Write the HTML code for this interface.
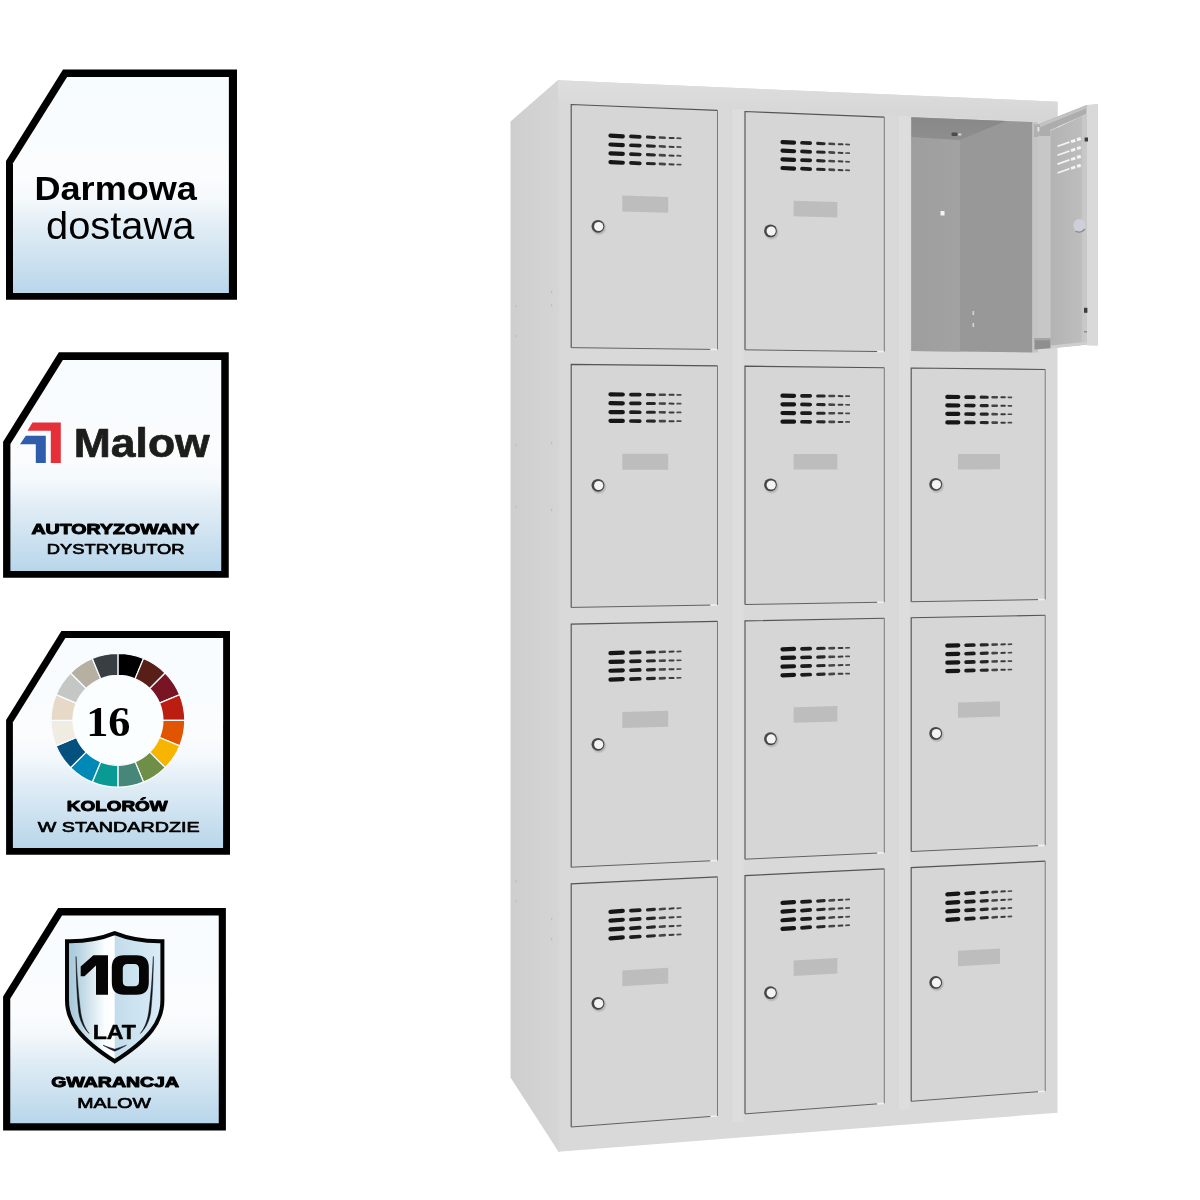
<!DOCTYPE html>
<html><head><meta charset="utf-8"><title>Szafa</title>
<style>
html,body{margin:0;padding:0;background:#fff;}
body{width:1200px;height:1200px;overflow:hidden;font-family:"Liberation Sans",sans-serif;}
svg{display:block}
</style></head><body>
<svg width="1200" height="1200" viewBox="0 0 1200 1200">
<defs>
<filter id="soft" x="-0.02" y="-0.02" width="1.04" height="1.04"><feGaussianBlur stdDeviation="0.65"/></filter>
<linearGradient id="gb" x1="0" y1="0" x2="0" y2="1">
<stop offset="0" stop-color="#f7fcff"/><stop offset="0.3" stop-color="#f9fcfe"/><stop offset="0.46" stop-color="#fbfcfd"/><stop offset="0.57" stop-color="#f4f9fc"/><stop offset="0.68" stop-color="#e3eef6"/><stop offset="1" stop-color="#b8d6ea"/>
</linearGradient>
<linearGradient id="gside" x1="0" y1="0" x2="1" y2="0">
<stop offset="0" stop-color="#cecece"/><stop offset="1" stop-color="#d5d5d5"/>
</linearGradient>
<linearGradient id="gback" x1="0" y1="0" x2="1" y2="0">
<stop offset="0" stop-color="#9e9e9e"/><stop offset="1" stop-color="#a2a2a2"/>
</linearGradient>
<linearGradient id="gdoorin" x1="0" y1="0" x2="1" y2="0">
<stop offset="0" stop-color="#b3b3b3"/><stop offset="0.84" stop-color="#bdbdbd"/><stop offset="0.88" stop-color="#c7c7c7"/><stop offset="1" stop-color="#c9c9c9"/>
</linearGradient>
<linearGradient id="gtop" x1="0" y1="0" x2="0" y2="1">
<stop offset="0" stop-color="#dedede"/><stop offset="1" stop-color="#d5d5d5"/>
</linearGradient>
<linearGradient id="gceil" x1="0" y1="0" x2="0" y2="1">
<stop offset="0" stop-color="#888888"/><stop offset="1" stop-color="#8e8e8e"/>
</linearGradient>
<radialGradient id="glockshadow"><stop offset="0.5" stop-color="#000" stop-opacity="0.25"/><stop offset="1" stop-color="#000" stop-opacity="0"/></radialGradient>
<linearGradient id="gsh" x1="0" y1="0" x2="1" y2="0">
<stop offset="0" stop-color="#a4c7d8"/><stop offset="0.12" stop-color="#b6d3e0"/><stop offset="0.4" stop-color="#fbfdfe"/><stop offset="0.5" stop-color="#ffffff"/><stop offset="1" stop-color="#ffffff"/>
</linearGradient>
<linearGradient id="gsh2" x1="0" y1="0" x2="1" y2="0">
<stop offset="0" stop-color="#c3dceb"/><stop offset="1" stop-color="#d9ecf7"/>
</linearGradient>
</defs>
<rect width="1200" height="1200" fill="#ffffff"/>
<g id="badges" opacity="0.999">
<polygon points="6.00,161.00 63.00,69.40 237.00,69.40 237.00,299.75 6.00,299.75" fill="#000"/><polygon points="13.00,163.25 67.10,76.90 228.90,76.90 228.90,293.00 13.00,293.00" fill="url(#gb)"/>
<polygon points="3.10,441.83 58.85,352.25 228.75,352.25 228.75,577.75 3.10,577.75" fill="#000"/><polygon points="10.40,444.04 62.86,360.00 221.25,360.00 221.25,571.00 10.40,571.00" fill="url(#gb)"/>
<polygon points="6.10,719.95 61.39,631.10 230.00,631.10 230.00,854.75 6.10,854.75" fill="#000"/><polygon points="12.90,722.13 65.37,637.90 223.10,637.90 223.10,847.90 12.90,847.90" fill="url(#gb)"/>
<polygon points="3.10,996.49 58.10,908.10 225.90,908.10 225.90,1130.40 3.10,1130.40" fill="#000"/><polygon points="10.25,998.67 62.06,915.60 218.75,915.60 218.75,1123.25 10.25,1123.25" fill="url(#gb)"/>
<text x="34.50" y="199.50" font-family="'Liberation Sans', sans-serif" font-size="33.77" font-weight="bold" textLength="162.39" lengthAdjust="spacingAndGlyphs" fill="#000">Darmowa</text>
<text x="46.05" y="238.95" font-family="'Liberation Sans', sans-serif" font-size="38.47" font-weight="normal" textLength="148.27" lengthAdjust="spacingAndGlyphs" fill="#000">dostawa</text>
<g><polygon points="32.5,422.5 60.8,422.5 60.8,463 50.8,463 50.8,430.8 27.5,430.8" fill="#e5303a"/><polygon points="25.8,435.8 45.8,435.8 45.8,463 35.8,463 35.8,444.2 20,444.2" fill="#2f5cab"/></g>
<text x="73.80" y="456.75" font-family="'Liberation Sans', sans-serif" font-size="39.80" font-weight="bold" textLength="135.83" lengthAdjust="spacingAndGlyphs" fill="#1d1d1b" stroke="#1d1d1b" stroke-width="0.70" stroke-linejoin="round">Malow</text>
<text x="31.45" y="533.70" font-family="'Liberation Sans', sans-serif" font-size="14.91" font-weight="bold" textLength="167.57" lengthAdjust="spacingAndGlyphs" fill="#000" stroke="#000" stroke-width="1.00" stroke-linejoin="round">AUTORYZOWANY</text>
<text x="46.80" y="554.00" font-family="'Liberation Sans', sans-serif" font-size="14.32" font-weight="normal" textLength="137.76" lengthAdjust="spacingAndGlyphs" fill="#000" stroke="#000" stroke-width="0.70" stroke-linejoin="round">DYSTRYBUTOR</text>
<circle cx="117.9" cy="720.3" r="46" fill="#fbfeff"/>
<path d="M117.90 653.40 A66.9 66.9 0 0 1 143.50 658.49 L135.12 678.73 A45.0 45.0 0 0 0 117.90 675.30 Z" fill="#000000" stroke="#f8fcfe" stroke-width="1.25"/>
<path d="M143.50 658.49 A66.9 66.9 0 0 1 165.21 672.99 L149.72 688.48 A45.0 45.0 0 0 0 135.12 678.73 Z" fill="#581f18" stroke="#f8fcfe" stroke-width="1.25"/>
<path d="M165.21 672.99 A66.9 66.9 0 0 1 179.71 694.70 L159.47 703.08 A45.0 45.0 0 0 0 149.72 688.48 Z" fill="#781424" stroke="#f8fcfe" stroke-width="1.25"/>
<path d="M179.71 694.70 A66.9 66.9 0 0 1 184.80 720.30 L162.90 720.30 A45.0 45.0 0 0 0 159.47 703.08 Z" fill="#bb1e10" stroke="#f8fcfe" stroke-width="1.25"/>
<path d="M184.80 720.30 A66.9 66.9 0 0 1 179.71 745.90 L159.47 737.52 A45.0 45.0 0 0 0 162.90 720.30 Z" fill="#e15501" stroke="#f8fcfe" stroke-width="1.25"/>
<path d="M179.71 745.90 A66.9 66.9 0 0 1 165.21 767.61 L149.72 752.12 A45.0 45.0 0 0 0 159.47 737.52 Z" fill="#f7b500" stroke="#f8fcfe" stroke-width="1.25"/>
<path d="M165.21 767.61 A66.9 66.9 0 0 1 143.50 782.11 L135.12 761.87 A45.0 45.0 0 0 0 149.72 752.12 Z" fill="#6f8f48" stroke="#f8fcfe" stroke-width="1.25"/>
<path d="M143.50 782.11 A66.9 66.9 0 0 1 117.90 787.20 L117.90 765.30 A45.0 45.0 0 0 0 135.12 761.87 Z" fill="#47877a" stroke="#f8fcfe" stroke-width="1.25"/>
<path d="M117.90 787.20 A66.9 66.9 0 0 1 92.30 782.11 L100.68 761.87 A45.0 45.0 0 0 0 117.90 765.30 Z" fill="#0a9a94" stroke="#f8fcfe" stroke-width="1.25"/>
<path d="M92.30 782.11 A66.9 66.9 0 0 1 70.59 767.61 L86.08 752.12 A45.0 45.0 0 0 0 100.68 761.87 Z" fill="#0089b6" stroke="#f8fcfe" stroke-width="1.25"/>
<path d="M70.59 767.61 A66.9 66.9 0 0 1 56.09 745.90 L76.33 737.52 A45.0 45.0 0 0 0 86.08 752.12 Z" fill="#04507f" stroke="#f8fcfe" stroke-width="1.25"/>
<path d="M56.09 745.90 A66.9 66.9 0 0 1 51.00 720.30 L72.90 720.30 A45.0 45.0 0 0 0 76.33 737.52 Z" fill="#f1ece1" stroke="#f8fcfe" stroke-width="1.25"/>
<path d="M51.00 720.30 A66.9 66.9 0 0 1 56.09 694.70 L76.33 703.08 A45.0 45.0 0 0 0 72.90 720.30 Z" fill="#e6d9c8" stroke="#f8fcfe" stroke-width="1.25"/>
<path d="M56.09 694.70 A66.9 66.9 0 0 1 70.59 672.99 L86.08 688.48 A45.0 45.0 0 0 0 76.33 703.08 Z" fill="#c5c7c4" stroke="#f8fcfe" stroke-width="1.25"/>
<path d="M70.59 672.99 A66.9 66.9 0 0 1 92.30 658.49 L100.68 678.73 A45.0 45.0 0 0 0 86.08 688.48 Z" fill="#b5b0a1" stroke="#f8fcfe" stroke-width="1.25"/>
<path d="M92.30 658.49 A66.9 66.9 0 0 1 117.90 653.40 L117.90 675.30 A45.0 45.0 0 0 0 100.68 678.73 Z" fill="#383e42" stroke="#f8fcfe" stroke-width="1.25"/>
<text x="86.20" y="736.20" font-family="'Liberation Serif', sans-serif" font-size="42.28" font-weight="bold" textLength="44.29" lengthAdjust="spacingAndGlyphs" fill="#000">16</text>
<text x="66.75" y="811.20" font-family="'Liberation Sans', sans-serif" font-size="14.91" font-weight="bold" textLength="100.95" lengthAdjust="spacingAndGlyphs" fill="#000" stroke="#000" stroke-width="1.00" stroke-linejoin="round">KOLORÓW</text>
<text x="37.75" y="832.00" font-family="'Liberation Sans', sans-serif" font-size="14.91" font-weight="normal" textLength="161.83" lengthAdjust="spacingAndGlyphs" fill="#000" stroke="#000" stroke-width="0.70" stroke-linejoin="round">W STANDARDZIE</text>
<path d="M67 941.2 C 83 941.5, 100 939.2, 114.7 933.2 C 129.4 939.2, 146.4 941.5, 162.4 941.2 L162.4 1000 C 162.4 1021, 150.5 1038.5, 114.7 1061.3 C 78.9 1038.5, 67 1021, 67 1000 Z" fill="url(#gsh)"/>
<path d="M114.7 933.2 C 129.4 939.2, 146.4 941.5, 162.4 941.2 L162.4 1000 C 162.4 1021, 150.5 1038.5, 114.7 1061.3 Z" fill="url(#gsh2)"/>
<path d="M67 941.2 C 83 941.5, 100 939.2, 114.7 933.2 C 129.4 939.2, 146.4 941.5, 162.4 941.2 L162.4 1000 C 162.4 1021, 150.5 1038.5, 114.7 1061.3 C 78.9 1038.5, 67 1021, 67 1000 Z" fill="none" stroke="#050505" stroke-width="4" stroke-linejoin="miter"/>
<path d="M76 956.5 C 76.2 975, 76.8 995, 78.7 1012 C 80 1021, 83.5 1028, 89 1033.5 C 84.5 1027.5, 81.8 1020.5, 80.6 1012 C 78.3 995, 77 975, 76 956.5Z" fill="#101018" stroke="#101018" stroke-width="0.5"/>
<path d="M153.4 956.5 C 153.2 975, 152.6 995, 150.7 1012 C 149.4 1021, 145.9 1028, 140.4 1033.5 C 144.9 1027.5, 147.6 1020.5, 148.8 1012 C 151.1 995, 152.4 975, 153.4 956.5Z" fill="#101018" stroke="#101018" stroke-width="0.5"/>
<path d="M103 1045.2 Q 109 1048.8 114.7 1051.2 Q 120.4 1048.8 126.4 1045.2 Q 120 1047.6 114.7 1049.2 Q 109.4 1047.6 103 1045.2Z" fill="#15152a" stroke="#15152a" stroke-width="0.5"/>
<path d="M93.4 955.2 H108 V994.8 H96 V965.6 L84.5 976.3 H80.7 V966.6 Z" fill="#050505"/>
<path fill-rule="evenodd" d="M124 955.2 H136.6 Q148.8 955.2 148.8 967.5 V982.5 Q148.8 994.8 136.6 994.8 H124 Q111.8 994.8 111.8 982.5 V967.5 Q111.8 955.2 124 955.2 Z M127.5 963.9 Q122.8 963.9 122.8 968.6 V981.6 Q122.8 986.3 127.5 986.3 H134.3 Q139 986.3 139 981.6 V968.6 Q139 963.9 134.3 963.9 Z" fill="#050505"/>
<text x="92.65" y="1039.45" font-family="'Liberation Sans', sans-serif" font-size="20.75" font-weight="bold" textLength="43.30" lengthAdjust="spacingAndGlyphs" fill="#000" stroke="#000" stroke-width="0.50" stroke-linejoin="round">LAT</text>
<text x="51.35" y="1086.50" font-family="'Liberation Sans', sans-serif" font-size="14.91" font-weight="bold" textLength="127.64" lengthAdjust="spacingAndGlyphs" fill="#000" stroke="#000" stroke-width="1.00" stroke-linejoin="round">GWARANCJA</text>
<text x="77.15" y="1107.50" font-family="'Liberation Sans', sans-serif" font-size="15.04" font-weight="normal" textLength="73.81" lengthAdjust="spacingAndGlyphs" fill="#000" stroke="#000" stroke-width="0.70" stroke-linejoin="round">MALOW</text>
</g>
<g id="locker" filter="url(#soft)">
<polygon points="510.50,121.50 558.00,80.00 558.00,1151.00 510.50,1077.50" fill="url(#gside)"/>
<polygon points="558.00,80.20 1057.50,101.68 1057.50,1112.69 558.00,1151.80" fill="#d9d9d9"/>
<polygon points="558.00,80.20 560.50,80.31 560.50,1151.60 558.00,1151.80" fill="#d7d7d7"/>
<polygon points="558.00,80.20 1057.50,101.68 1057.50,121.90 558.00,101.63" fill="url(#gtop)"/>
<polygon points="731.00,108.65 743.50,109.16 743.50,1121.54 731.00,1122.49" fill="#dddddd"/>
<line x1="731.0" y1="108.7" x2="731.0" y2="1122.5" stroke="#d3d3d3" stroke-width="0.8"/>
<polygon points="897.80,115.42 909.70,115.90 909.70,1108.83 897.80,1109.74" fill="#dddddd"/>
<line x1="897.8" y1="115.4" x2="897.8" y2="1109.7" stroke="#d3d3d3" stroke-width="0.8"/>
<polygon points="571.20,104.52 717.50,110.42 717.50,349.49 571.20,347.63" fill="#d6d6d6"/>
<polyline points="571.20,347.63 571.20,104.52 717.50,110.42" fill="none" stroke="#555555" stroke-width="1.15"/>
<polyline points="717.50,110.42 717.50,349.49" fill="none" stroke="#7a7a7a" stroke-width="1"/>
<polyline points="571.20,347.63 710.50,349.40" fill="none" stroke="#626262" stroke-width="1"/>
<polyline points="710.50,349.40 717.00,349.48" fill="none" stroke="#f0f0f0" stroke-width="1.6"/>
<line x1="610.47" y1="135.67" x2="622.79" y2="136.28" stroke="#141414" stroke-opacity="1.00" stroke-width="4.2" stroke-linecap="round"/>
<line x1="630.94" y1="136.44" x2="639.75" y2="136.90" stroke="#141414" stroke-opacity="0.97" stroke-width="3.7" stroke-linecap="round"/>
<line x1="647.46" y1="137.06" x2="654.37" y2="137.43" stroke="#141414" stroke-opacity="0.90" stroke-width="3.1" stroke-linecap="round"/>
<line x1="659.92" y1="137.53" x2="664.73" y2="137.80" stroke="#141414" stroke-opacity="0.75" stroke-width="2.6" stroke-linecap="round"/>
<line x1="669.53" y1="137.90" x2="673.54" y2="138.12" stroke="#141414" stroke-opacity="0.80" stroke-width="2.0" stroke-linecap="round"/>
<line x1="677.19" y1="138.18" x2="680.70" y2="138.38" stroke="#141414" stroke-opacity="0.72" stroke-width="1.7" stroke-linecap="round"/>
<line x1="610.47" y1="144.51" x2="622.79" y2="145.10" stroke="#141414" stroke-opacity="1.00" stroke-width="4.2" stroke-linecap="round"/>
<line x1="630.94" y1="145.25" x2="639.75" y2="145.70" stroke="#141414" stroke-opacity="0.97" stroke-width="3.7" stroke-linecap="round"/>
<line x1="647.46" y1="145.86" x2="654.37" y2="146.22" stroke="#141414" stroke-opacity="0.90" stroke-width="3.1" stroke-linecap="round"/>
<line x1="659.92" y1="146.32" x2="664.73" y2="146.58" stroke="#141414" stroke-opacity="0.75" stroke-width="2.6" stroke-linecap="round"/>
<line x1="669.53" y1="146.67" x2="673.54" y2="146.89" stroke="#141414" stroke-opacity="0.80" stroke-width="2.0" stroke-linecap="round"/>
<line x1="677.19" y1="146.95" x2="680.70" y2="147.14" stroke="#141414" stroke-opacity="0.72" stroke-width="1.7" stroke-linecap="round"/>
<line x1="610.47" y1="153.35" x2="622.79" y2="153.92" stroke="#141414" stroke-opacity="1.00" stroke-width="4.2" stroke-linecap="round"/>
<line x1="630.94" y1="154.07" x2="639.75" y2="154.51" stroke="#141414" stroke-opacity="0.97" stroke-width="3.7" stroke-linecap="round"/>
<line x1="647.46" y1="154.66" x2="654.37" y2="155.01" stroke="#141414" stroke-opacity="0.90" stroke-width="3.1" stroke-linecap="round"/>
<line x1="659.92" y1="155.10" x2="664.73" y2="155.36" stroke="#141414" stroke-opacity="0.75" stroke-width="2.6" stroke-linecap="round"/>
<line x1="669.53" y1="155.45" x2="673.54" y2="155.66" stroke="#141414" stroke-opacity="0.80" stroke-width="2.0" stroke-linecap="round"/>
<line x1="677.19" y1="155.72" x2="680.70" y2="155.90" stroke="#141414" stroke-opacity="0.72" stroke-width="1.7" stroke-linecap="round"/>
<line x1="610.47" y1="162.18" x2="622.79" y2="162.74" stroke="#141414" stroke-opacity="1.00" stroke-width="4.2" stroke-linecap="round"/>
<line x1="630.94" y1="162.88" x2="639.75" y2="163.31" stroke="#141414" stroke-opacity="0.97" stroke-width="3.7" stroke-linecap="round"/>
<line x1="647.46" y1="163.46" x2="654.37" y2="163.79" stroke="#141414" stroke-opacity="0.90" stroke-width="3.1" stroke-linecap="round"/>
<line x1="659.92" y1="163.89" x2="664.73" y2="164.14" stroke="#141414" stroke-opacity="0.75" stroke-width="2.6" stroke-linecap="round"/>
<line x1="669.53" y1="164.22" x2="673.54" y2="164.43" stroke="#141414" stroke-opacity="0.80" stroke-width="2.0" stroke-linecap="round"/>
<line x1="677.19" y1="164.49" x2="680.70" y2="164.66" stroke="#141414" stroke-opacity="0.72" stroke-width="1.7" stroke-linecap="round"/>
<polygon points="622.26,195.52 668.20,196.91 668.20,212.78 622.26,211.48" fill="#bdbdbd"/>
<circle cx="598.97" cy="227.80" r="8" fill="url(#glockshadow)"/>
<circle cx="597.97" cy="226.30" r="6.4" fill="#474747"/>
<circle cx="598.67" cy="226.50" r="4.6" fill="#f4f4f4"/>
<polygon points="571.20,364.32 717.50,365.91 717.50,604.98 571.20,607.42" fill="#d6d6d6"/>
<polyline points="571.20,607.42 571.20,364.32 717.50,365.91" fill="none" stroke="#555555" stroke-width="1.15"/>
<polyline points="717.50,365.91 717.50,604.98" fill="none" stroke="#7a7a7a" stroke-width="1"/>
<polyline points="571.20,607.42 710.50,605.09" fill="none" stroke="#626262" stroke-width="1"/>
<polyline points="710.50,605.09 717.00,604.99" fill="none" stroke="#f0f0f0" stroke-width="1.6"/>
<line x1="610.47" y1="394.38" x2="622.79" y2="394.50" stroke="#141414" stroke-opacity="1.00" stroke-width="4.2" stroke-linecap="round"/>
<line x1="630.94" y1="394.53" x2="639.75" y2="394.62" stroke="#141414" stroke-opacity="0.97" stroke-width="3.7" stroke-linecap="round"/>
<line x1="647.46" y1="394.66" x2="654.37" y2="394.73" stroke="#141414" stroke-opacity="0.90" stroke-width="3.1" stroke-linecap="round"/>
<line x1="659.92" y1="394.75" x2="664.73" y2="394.81" stroke="#141414" stroke-opacity="0.75" stroke-width="2.6" stroke-linecap="round"/>
<line x1="669.53" y1="394.83" x2="673.54" y2="394.87" stroke="#141414" stroke-opacity="0.80" stroke-width="2.0" stroke-linecap="round"/>
<line x1="677.19" y1="394.88" x2="680.70" y2="394.92" stroke="#141414" stroke-opacity="0.72" stroke-width="1.7" stroke-linecap="round"/>
<line x1="610.47" y1="403.21" x2="622.79" y2="403.32" stroke="#141414" stroke-opacity="1.00" stroke-width="4.2" stroke-linecap="round"/>
<line x1="630.94" y1="403.35" x2="639.75" y2="403.43" stroke="#141414" stroke-opacity="0.97" stroke-width="3.7" stroke-linecap="round"/>
<line x1="647.46" y1="403.45" x2="654.37" y2="403.52" stroke="#141414" stroke-opacity="0.90" stroke-width="3.1" stroke-linecap="round"/>
<line x1="659.92" y1="403.54" x2="664.73" y2="403.58" stroke="#141414" stroke-opacity="0.75" stroke-width="2.6" stroke-linecap="round"/>
<line x1="669.53" y1="403.60" x2="673.54" y2="403.64" stroke="#141414" stroke-opacity="0.80" stroke-width="2.0" stroke-linecap="round"/>
<line x1="677.19" y1="403.65" x2="680.70" y2="403.69" stroke="#141414" stroke-opacity="0.72" stroke-width="1.7" stroke-linecap="round"/>
<line x1="610.47" y1="412.05" x2="622.79" y2="412.14" stroke="#141414" stroke-opacity="1.00" stroke-width="4.2" stroke-linecap="round"/>
<line x1="630.94" y1="412.16" x2="639.75" y2="412.23" stroke="#141414" stroke-opacity="0.97" stroke-width="3.7" stroke-linecap="round"/>
<line x1="647.46" y1="412.25" x2="654.37" y2="412.31" stroke="#141414" stroke-opacity="0.90" stroke-width="3.1" stroke-linecap="round"/>
<line x1="659.92" y1="412.32" x2="664.73" y2="412.36" stroke="#141414" stroke-opacity="0.75" stroke-width="2.6" stroke-linecap="round"/>
<line x1="669.53" y1="412.38" x2="673.54" y2="412.41" stroke="#141414" stroke-opacity="0.80" stroke-width="2.0" stroke-linecap="round"/>
<line x1="677.19" y1="412.42" x2="680.70" y2="412.45" stroke="#141414" stroke-opacity="0.72" stroke-width="1.7" stroke-linecap="round"/>
<line x1="610.47" y1="420.88" x2="622.79" y2="420.96" stroke="#141414" stroke-opacity="1.00" stroke-width="4.2" stroke-linecap="round"/>
<line x1="630.94" y1="420.98" x2="639.75" y2="421.03" stroke="#141414" stroke-opacity="0.97" stroke-width="3.7" stroke-linecap="round"/>
<line x1="647.46" y1="421.05" x2="654.37" y2="421.10" stroke="#141414" stroke-opacity="0.90" stroke-width="3.1" stroke-linecap="round"/>
<line x1="659.92" y1="421.11" x2="664.73" y2="421.14" stroke="#141414" stroke-opacity="0.75" stroke-width="2.6" stroke-linecap="round"/>
<line x1="669.53" y1="421.15" x2="673.54" y2="421.18" stroke="#141414" stroke-opacity="0.80" stroke-width="2.0" stroke-linecap="round"/>
<line x1="677.19" y1="421.19" x2="680.70" y2="421.21" stroke="#141414" stroke-opacity="0.72" stroke-width="1.7" stroke-linecap="round"/>
<polygon points="622.26,453.82 668.20,453.85 668.20,469.72 622.26,469.77" fill="#bdbdbd"/>
<circle cx="598.97" cy="486.81" r="8" fill="url(#glockshadow)"/>
<circle cx="597.97" cy="485.31" r="6.4" fill="#474747"/>
<circle cx="598.67" cy="485.51" r="4.6" fill="#f4f4f4"/>
<polygon points="571.20,624.11 717.50,621.39 717.50,860.46 571.20,867.22" fill="#d6d6d6"/>
<polyline points="571.20,867.22 571.20,624.11 717.50,621.39" fill="none" stroke="#555555" stroke-width="1.15"/>
<polyline points="717.50,621.39 717.50,860.46" fill="none" stroke="#7a7a7a" stroke-width="1"/>
<polyline points="571.20,867.22 710.50,860.79" fill="none" stroke="#626262" stroke-width="1"/>
<polyline points="710.50,860.79 717.00,860.49" fill="none" stroke="#f0f0f0" stroke-width="1.6"/>
<line x1="610.47" y1="653.08" x2="622.79" y2="652.71" stroke="#141414" stroke-opacity="1.00" stroke-width="4.2" stroke-linecap="round"/>
<line x1="630.94" y1="652.62" x2="639.75" y2="652.35" stroke="#141414" stroke-opacity="0.97" stroke-width="3.7" stroke-linecap="round"/>
<line x1="647.46" y1="652.25" x2="654.37" y2="652.03" stroke="#141414" stroke-opacity="0.90" stroke-width="3.1" stroke-linecap="round"/>
<line x1="659.92" y1="651.97" x2="664.73" y2="651.81" stroke="#141414" stroke-opacity="0.75" stroke-width="2.6" stroke-linecap="round"/>
<line x1="669.53" y1="651.75" x2="673.54" y2="651.62" stroke="#141414" stroke-opacity="0.80" stroke-width="2.0" stroke-linecap="round"/>
<line x1="677.19" y1="651.58" x2="680.70" y2="651.47" stroke="#141414" stroke-opacity="0.72" stroke-width="1.7" stroke-linecap="round"/>
<line x1="610.47" y1="661.91" x2="622.79" y2="661.53" stroke="#141414" stroke-opacity="1.00" stroke-width="4.2" stroke-linecap="round"/>
<line x1="630.94" y1="661.44" x2="639.75" y2="661.15" stroke="#141414" stroke-opacity="0.97" stroke-width="3.7" stroke-linecap="round"/>
<line x1="647.46" y1="661.05" x2="654.37" y2="660.82" stroke="#141414" stroke-opacity="0.90" stroke-width="3.1" stroke-linecap="round"/>
<line x1="659.92" y1="660.76" x2="664.73" y2="660.59" stroke="#141414" stroke-opacity="0.75" stroke-width="2.6" stroke-linecap="round"/>
<line x1="669.53" y1="660.53" x2="673.54" y2="660.39" stroke="#141414" stroke-opacity="0.80" stroke-width="2.0" stroke-linecap="round"/>
<line x1="677.19" y1="660.35" x2="680.70" y2="660.23" stroke="#141414" stroke-opacity="0.72" stroke-width="1.7" stroke-linecap="round"/>
<line x1="610.47" y1="670.75" x2="622.79" y2="670.35" stroke="#141414" stroke-opacity="1.00" stroke-width="4.2" stroke-linecap="round"/>
<line x1="630.94" y1="670.25" x2="639.75" y2="669.95" stroke="#141414" stroke-opacity="0.97" stroke-width="3.7" stroke-linecap="round"/>
<line x1="647.46" y1="669.85" x2="654.37" y2="669.61" stroke="#141414" stroke-opacity="0.90" stroke-width="3.1" stroke-linecap="round"/>
<line x1="659.92" y1="669.54" x2="664.73" y2="669.37" stroke="#141414" stroke-opacity="0.75" stroke-width="2.6" stroke-linecap="round"/>
<line x1="669.53" y1="669.31" x2="673.54" y2="669.16" stroke="#141414" stroke-opacity="0.80" stroke-width="2.0" stroke-linecap="round"/>
<line x1="677.19" y1="669.12" x2="680.70" y2="668.99" stroke="#141414" stroke-opacity="0.72" stroke-width="1.7" stroke-linecap="round"/>
<line x1="610.47" y1="679.58" x2="622.79" y2="679.17" stroke="#141414" stroke-opacity="1.00" stroke-width="4.2" stroke-linecap="round"/>
<line x1="630.94" y1="679.07" x2="639.75" y2="678.75" stroke="#141414" stroke-opacity="0.97" stroke-width="3.7" stroke-linecap="round"/>
<line x1="647.46" y1="678.65" x2="654.37" y2="678.40" stroke="#141414" stroke-opacity="0.90" stroke-width="3.1" stroke-linecap="round"/>
<line x1="659.92" y1="678.33" x2="664.73" y2="678.14" stroke="#141414" stroke-opacity="0.75" stroke-width="2.6" stroke-linecap="round"/>
<line x1="669.53" y1="678.08" x2="673.54" y2="677.93" stroke="#141414" stroke-opacity="0.80" stroke-width="2.0" stroke-linecap="round"/>
<line x1="677.19" y1="677.89" x2="680.70" y2="677.76" stroke="#141414" stroke-opacity="0.72" stroke-width="1.7" stroke-linecap="round"/>
<polygon points="622.26,712.11 668.20,710.79 668.20,726.66 622.26,728.06" fill="#bdbdbd"/>
<circle cx="598.97" cy="745.81" r="8" fill="url(#glockshadow)"/>
<circle cx="597.97" cy="744.31" r="6.4" fill="#474747"/>
<circle cx="598.67" cy="744.51" r="4.6" fill="#f4f4f4"/>
<polygon points="571.20,883.91 717.50,876.88 717.50,1115.95 571.20,1127.01" fill="#d6d6d6"/>
<polyline points="571.20,1127.01 571.20,883.91 717.50,876.88" fill="none" stroke="#555555" stroke-width="1.15"/>
<polyline points="717.50,876.88 717.50,1115.95" fill="none" stroke="#7a7a7a" stroke-width="1"/>
<polyline points="571.20,1127.01 710.50,1116.48" fill="none" stroke="#626262" stroke-width="1"/>
<polyline points="710.50,1116.48 717.00,1115.99" fill="none" stroke="#f0f0f0" stroke-width="1.6"/>
<line x1="610.47" y1="911.78" x2="622.79" y2="910.93" stroke="#141414" stroke-opacity="1.00" stroke-width="4.2" stroke-linecap="round"/>
<line x1="630.94" y1="910.71" x2="639.75" y2="910.07" stroke="#141414" stroke-opacity="0.97" stroke-width="3.7" stroke-linecap="round"/>
<line x1="647.46" y1="909.85" x2="654.37" y2="909.33" stroke="#141414" stroke-opacity="0.90" stroke-width="3.1" stroke-linecap="round"/>
<line x1="659.92" y1="909.19" x2="664.73" y2="908.81" stroke="#141414" stroke-opacity="0.75" stroke-width="2.6" stroke-linecap="round"/>
<line x1="669.53" y1="908.68" x2="673.54" y2="908.37" stroke="#141414" stroke-opacity="0.80" stroke-width="2.0" stroke-linecap="round"/>
<line x1="677.19" y1="908.28" x2="680.70" y2="908.01" stroke="#141414" stroke-opacity="0.72" stroke-width="1.7" stroke-linecap="round"/>
<line x1="610.47" y1="920.61" x2="622.79" y2="919.75" stroke="#141414" stroke-opacity="1.00" stroke-width="4.2" stroke-linecap="round"/>
<line x1="630.94" y1="919.53" x2="639.75" y2="918.87" stroke="#141414" stroke-opacity="0.97" stroke-width="3.7" stroke-linecap="round"/>
<line x1="647.46" y1="918.65" x2="654.37" y2="918.12" stroke="#141414" stroke-opacity="0.90" stroke-width="3.1" stroke-linecap="round"/>
<line x1="659.92" y1="917.98" x2="664.73" y2="917.59" stroke="#141414" stroke-opacity="0.75" stroke-width="2.6" stroke-linecap="round"/>
<line x1="669.53" y1="917.46" x2="673.54" y2="917.14" stroke="#141414" stroke-opacity="0.80" stroke-width="2.0" stroke-linecap="round"/>
<line x1="677.19" y1="917.05" x2="680.70" y2="916.78" stroke="#141414" stroke-opacity="0.72" stroke-width="1.7" stroke-linecap="round"/>
<line x1="610.47" y1="929.45" x2="622.79" y2="928.57" stroke="#141414" stroke-opacity="1.00" stroke-width="4.2" stroke-linecap="round"/>
<line x1="630.94" y1="928.34" x2="639.75" y2="927.67" stroke="#141414" stroke-opacity="0.97" stroke-width="3.7" stroke-linecap="round"/>
<line x1="647.46" y1="927.44" x2="654.37" y2="926.91" stroke="#141414" stroke-opacity="0.90" stroke-width="3.1" stroke-linecap="round"/>
<line x1="659.92" y1="926.76" x2="664.73" y2="926.37" stroke="#141414" stroke-opacity="0.75" stroke-width="2.6" stroke-linecap="round"/>
<line x1="669.53" y1="926.23" x2="673.54" y2="925.91" stroke="#141414" stroke-opacity="0.80" stroke-width="2.0" stroke-linecap="round"/>
<line x1="677.19" y1="925.82" x2="680.70" y2="925.54" stroke="#141414" stroke-opacity="0.72" stroke-width="1.7" stroke-linecap="round"/>
<line x1="610.47" y1="938.29" x2="622.79" y2="937.39" stroke="#141414" stroke-opacity="1.00" stroke-width="4.2" stroke-linecap="round"/>
<line x1="630.94" y1="937.16" x2="639.75" y2="936.48" stroke="#141414" stroke-opacity="0.97" stroke-width="3.7" stroke-linecap="round"/>
<line x1="647.46" y1="936.24" x2="654.37" y2="935.70" stroke="#141414" stroke-opacity="0.90" stroke-width="3.1" stroke-linecap="round"/>
<line x1="659.92" y1="935.55" x2="664.73" y2="935.15" stroke="#141414" stroke-opacity="0.75" stroke-width="2.6" stroke-linecap="round"/>
<line x1="669.53" y1="935.01" x2="673.54" y2="934.68" stroke="#141414" stroke-opacity="0.80" stroke-width="2.0" stroke-linecap="round"/>
<line x1="677.19" y1="934.58" x2="680.70" y2="934.30" stroke="#141414" stroke-opacity="0.72" stroke-width="1.7" stroke-linecap="round"/>
<polygon points="622.26,970.40 668.20,967.73 668.20,983.60 622.26,986.35" fill="#bdbdbd"/>
<circle cx="598.97" cy="1004.82" r="8" fill="url(#glockshadow)"/>
<circle cx="597.97" cy="1003.32" r="6.4" fill="#474747"/>
<circle cx="598.67" cy="1003.52" r="4.6" fill="#f4f4f4"/>
<polygon points="745.00,111.53 884.30,117.14 884.30,351.62 745.00,349.84" fill="#d6d6d6"/>
<polyline points="745.00,349.84 745.00,111.53 884.30,117.14" fill="none" stroke="#555555" stroke-width="1.15"/>
<polyline points="884.30,117.14 884.30,351.62" fill="none" stroke="#7a7a7a" stroke-width="1"/>
<polyline points="745.00,349.84 877.30,351.53" fill="none" stroke="#626262" stroke-width="1"/>
<polyline points="877.30,351.53 883.80,351.61" fill="none" stroke="#f0f0f0" stroke-width="1.6"/>
<line x1="782.49" y1="142.03" x2="794.02" y2="142.61" stroke="#141414" stroke-opacity="1.00" stroke-width="4.2" stroke-linecap="round"/>
<line x1="801.97" y1="142.76" x2="810.19" y2="143.20" stroke="#141414" stroke-opacity="0.97" stroke-width="3.7" stroke-linecap="round"/>
<line x1="817.68" y1="143.35" x2="824.12" y2="143.70" stroke="#141414" stroke-opacity="0.90" stroke-width="3.1" stroke-linecap="round"/>
<line x1="829.54" y1="143.79" x2="833.99" y2="144.06" stroke="#141414" stroke-opacity="0.75" stroke-width="2.6" stroke-linecap="round"/>
<line x1="838.68" y1="144.14" x2="842.40" y2="144.35" stroke="#141414" stroke-opacity="0.80" stroke-width="2.0" stroke-linecap="round"/>
<line x1="845.96" y1="144.42" x2="849.22" y2="144.60" stroke="#141414" stroke-opacity="0.72" stroke-width="1.7" stroke-linecap="round"/>
<line x1="782.49" y1="150.69" x2="794.02" y2="151.26" stroke="#141414" stroke-opacity="1.00" stroke-width="4.2" stroke-linecap="round"/>
<line x1="801.97" y1="151.40" x2="810.19" y2="151.83" stroke="#141414" stroke-opacity="0.97" stroke-width="3.7" stroke-linecap="round"/>
<line x1="817.68" y1="151.97" x2="824.12" y2="152.32" stroke="#141414" stroke-opacity="0.90" stroke-width="3.1" stroke-linecap="round"/>
<line x1="829.54" y1="152.41" x2="833.99" y2="152.66" stroke="#141414" stroke-opacity="0.75" stroke-width="2.6" stroke-linecap="round"/>
<line x1="838.68" y1="152.75" x2="842.40" y2="152.95" stroke="#141414" stroke-opacity="0.80" stroke-width="2.0" stroke-linecap="round"/>
<line x1="845.96" y1="153.02" x2="849.22" y2="153.19" stroke="#141414" stroke-opacity="0.72" stroke-width="1.7" stroke-linecap="round"/>
<line x1="782.49" y1="159.35" x2="794.02" y2="159.90" stroke="#141414" stroke-opacity="1.00" stroke-width="4.2" stroke-linecap="round"/>
<line x1="801.97" y1="160.04" x2="810.19" y2="160.46" stroke="#141414" stroke-opacity="0.97" stroke-width="3.7" stroke-linecap="round"/>
<line x1="817.68" y1="160.60" x2="824.12" y2="160.93" stroke="#141414" stroke-opacity="0.90" stroke-width="3.1" stroke-linecap="round"/>
<line x1="829.54" y1="161.02" x2="833.99" y2="161.27" stroke="#141414" stroke-opacity="0.75" stroke-width="2.6" stroke-linecap="round"/>
<line x1="838.68" y1="161.35" x2="842.40" y2="161.55" stroke="#141414" stroke-opacity="0.80" stroke-width="2.0" stroke-linecap="round"/>
<line x1="845.96" y1="161.61" x2="849.22" y2="161.79" stroke="#141414" stroke-opacity="0.72" stroke-width="1.7" stroke-linecap="round"/>
<line x1="782.49" y1="168.02" x2="794.02" y2="168.55" stroke="#141414" stroke-opacity="1.00" stroke-width="4.2" stroke-linecap="round"/>
<line x1="801.97" y1="168.69" x2="810.19" y2="169.09" stroke="#141414" stroke-opacity="0.97" stroke-width="3.7" stroke-linecap="round"/>
<line x1="817.68" y1="169.23" x2="824.12" y2="169.55" stroke="#141414" stroke-opacity="0.90" stroke-width="3.1" stroke-linecap="round"/>
<line x1="829.54" y1="169.64" x2="833.99" y2="169.88" stroke="#141414" stroke-opacity="0.75" stroke-width="2.6" stroke-linecap="round"/>
<line x1="838.68" y1="169.96" x2="842.40" y2="170.15" stroke="#141414" stroke-opacity="0.80" stroke-width="2.0" stroke-linecap="round"/>
<line x1="845.96" y1="170.21" x2="849.22" y2="170.38" stroke="#141414" stroke-opacity="0.72" stroke-width="1.7" stroke-linecap="round"/>
<polygon points="793.62,200.69 837.36,202.01 837.36,217.57 793.62,216.33" fill="#bdbdbd"/>
<circle cx="771.49" cy="232.38" r="8" fill="url(#glockshadow)"/>
<circle cx="770.49" cy="230.88" r="6.4" fill="#474747"/>
<circle cx="771.19" cy="231.08" r="4.6" fill="#f4f4f4"/>
<polygon points="745.00,366.20 884.30,367.72 884.30,602.19 745.00,604.52" fill="#d6d6d6"/>
<polyline points="745.00,604.52 745.00,366.20 884.30,367.72" fill="none" stroke="#555555" stroke-width="1.15"/>
<polyline points="884.30,367.72 884.30,602.19" fill="none" stroke="#7a7a7a" stroke-width="1"/>
<polyline points="745.00,604.52 877.30,602.31" fill="none" stroke="#626262" stroke-width="1"/>
<polyline points="877.30,602.31 883.80,602.20" fill="none" stroke="#f0f0f0" stroke-width="1.6"/>
<line x1="782.49" y1="395.66" x2="794.02" y2="395.78" stroke="#141414" stroke-opacity="1.00" stroke-width="4.2" stroke-linecap="round"/>
<line x1="801.97" y1="395.81" x2="810.19" y2="395.90" stroke="#141414" stroke-opacity="0.97" stroke-width="3.7" stroke-linecap="round"/>
<line x1="817.68" y1="395.93" x2="824.12" y2="396.00" stroke="#141414" stroke-opacity="0.90" stroke-width="3.1" stroke-linecap="round"/>
<line x1="829.54" y1="396.02" x2="833.99" y2="396.07" stroke="#141414" stroke-opacity="0.75" stroke-width="2.6" stroke-linecap="round"/>
<line x1="838.68" y1="396.09" x2="842.40" y2="396.13" stroke="#141414" stroke-opacity="0.80" stroke-width="2.0" stroke-linecap="round"/>
<line x1="845.96" y1="396.15" x2="849.22" y2="396.18" stroke="#141414" stroke-opacity="0.72" stroke-width="1.7" stroke-linecap="round"/>
<line x1="782.49" y1="404.32" x2="794.02" y2="404.43" stroke="#141414" stroke-opacity="1.00" stroke-width="4.2" stroke-linecap="round"/>
<line x1="801.97" y1="404.45" x2="810.19" y2="404.53" stroke="#141414" stroke-opacity="0.97" stroke-width="3.7" stroke-linecap="round"/>
<line x1="817.68" y1="404.56" x2="824.12" y2="404.62" stroke="#141414" stroke-opacity="0.90" stroke-width="3.1" stroke-linecap="round"/>
<line x1="829.54" y1="404.63" x2="833.99" y2="404.68" stroke="#141414" stroke-opacity="0.75" stroke-width="2.6" stroke-linecap="round"/>
<line x1="838.68" y1="404.70" x2="842.40" y2="404.73" stroke="#141414" stroke-opacity="0.80" stroke-width="2.0" stroke-linecap="round"/>
<line x1="845.96" y1="404.74" x2="849.22" y2="404.78" stroke="#141414" stroke-opacity="0.72" stroke-width="1.7" stroke-linecap="round"/>
<line x1="782.49" y1="412.99" x2="794.02" y2="413.07" stroke="#141414" stroke-opacity="1.00" stroke-width="4.2" stroke-linecap="round"/>
<line x1="801.97" y1="413.10" x2="810.19" y2="413.16" stroke="#141414" stroke-opacity="0.97" stroke-width="3.7" stroke-linecap="round"/>
<line x1="817.68" y1="413.18" x2="824.12" y2="413.24" stroke="#141414" stroke-opacity="0.90" stroke-width="3.1" stroke-linecap="round"/>
<line x1="829.54" y1="413.25" x2="833.99" y2="413.29" stroke="#141414" stroke-opacity="0.75" stroke-width="2.6" stroke-linecap="round"/>
<line x1="838.68" y1="413.30" x2="842.40" y2="413.33" stroke="#141414" stroke-opacity="0.80" stroke-width="2.0" stroke-linecap="round"/>
<line x1="845.96" y1="413.34" x2="849.22" y2="413.37" stroke="#141414" stroke-opacity="0.72" stroke-width="1.7" stroke-linecap="round"/>
<line x1="782.49" y1="421.65" x2="794.02" y2="421.72" stroke="#141414" stroke-opacity="1.00" stroke-width="4.2" stroke-linecap="round"/>
<line x1="801.97" y1="421.74" x2="810.19" y2="421.79" stroke="#141414" stroke-opacity="0.97" stroke-width="3.7" stroke-linecap="round"/>
<line x1="817.68" y1="421.81" x2="824.12" y2="421.85" stroke="#141414" stroke-opacity="0.90" stroke-width="3.1" stroke-linecap="round"/>
<line x1="829.54" y1="421.86" x2="833.99" y2="421.90" stroke="#141414" stroke-opacity="0.75" stroke-width="2.6" stroke-linecap="round"/>
<line x1="838.68" y1="421.91" x2="842.40" y2="421.93" stroke="#141414" stroke-opacity="0.80" stroke-width="2.0" stroke-linecap="round"/>
<line x1="845.96" y1="421.94" x2="849.22" y2="421.96" stroke="#141414" stroke-opacity="0.72" stroke-width="1.7" stroke-linecap="round"/>
<polygon points="793.62,453.94 837.36,453.97 837.36,469.53 793.62,469.58" fill="#bdbdbd"/>
<circle cx="771.49" cy="486.31" r="8" fill="url(#glockshadow)"/>
<circle cx="770.49" cy="484.81" r="6.4" fill="#474747"/>
<circle cx="771.19" cy="485.01" r="4.6" fill="#f4f4f4"/>
<polygon points="745.00,620.88 884.30,618.29 884.30,852.77 745.00,859.19" fill="#d6d6d6"/>
<polyline points="745.00,859.19 745.00,620.88 884.30,618.29" fill="none" stroke="#555555" stroke-width="1.15"/>
<polyline points="884.30,618.29 884.30,852.77" fill="none" stroke="#7a7a7a" stroke-width="1"/>
<polyline points="745.00,859.19 877.30,853.09" fill="none" stroke="#626262" stroke-width="1"/>
<polyline points="877.30,853.09 883.80,852.79" fill="none" stroke="#f0f0f0" stroke-width="1.6"/>
<line x1="782.49" y1="649.30" x2="794.02" y2="648.95" stroke="#141414" stroke-opacity="1.00" stroke-width="4.2" stroke-linecap="round"/>
<line x1="801.97" y1="648.86" x2="810.19" y2="648.60" stroke="#141414" stroke-opacity="0.97" stroke-width="3.7" stroke-linecap="round"/>
<line x1="817.68" y1="648.51" x2="824.12" y2="648.30" stroke="#141414" stroke-opacity="0.90" stroke-width="3.1" stroke-linecap="round"/>
<line x1="829.54" y1="648.25" x2="833.99" y2="648.09" stroke="#141414" stroke-opacity="0.75" stroke-width="2.6" stroke-linecap="round"/>
<line x1="838.68" y1="648.04" x2="842.40" y2="647.91" stroke="#141414" stroke-opacity="0.80" stroke-width="2.0" stroke-linecap="round"/>
<line x1="845.96" y1="647.87" x2="849.22" y2="647.77" stroke="#141414" stroke-opacity="0.72" stroke-width="1.7" stroke-linecap="round"/>
<line x1="782.49" y1="657.96" x2="794.02" y2="657.60" stroke="#141414" stroke-opacity="1.00" stroke-width="4.2" stroke-linecap="round"/>
<line x1="801.97" y1="657.51" x2="810.19" y2="657.23" stroke="#141414" stroke-opacity="0.97" stroke-width="3.7" stroke-linecap="round"/>
<line x1="817.68" y1="657.14" x2="824.12" y2="656.92" stroke="#141414" stroke-opacity="0.90" stroke-width="3.1" stroke-linecap="round"/>
<line x1="829.54" y1="656.86" x2="833.99" y2="656.70" stroke="#141414" stroke-opacity="0.75" stroke-width="2.6" stroke-linecap="round"/>
<line x1="838.68" y1="656.64" x2="842.40" y2="656.51" stroke="#141414" stroke-opacity="0.80" stroke-width="2.0" stroke-linecap="round"/>
<line x1="845.96" y1="656.47" x2="849.22" y2="656.36" stroke="#141414" stroke-opacity="0.72" stroke-width="1.7" stroke-linecap="round"/>
<line x1="782.49" y1="666.62" x2="794.02" y2="666.25" stroke="#141414" stroke-opacity="1.00" stroke-width="4.2" stroke-linecap="round"/>
<line x1="801.97" y1="666.15" x2="810.19" y2="665.86" stroke="#141414" stroke-opacity="0.97" stroke-width="3.7" stroke-linecap="round"/>
<line x1="817.68" y1="665.77" x2="824.12" y2="665.54" stroke="#141414" stroke-opacity="0.90" stroke-width="3.1" stroke-linecap="round"/>
<line x1="829.54" y1="665.47" x2="833.99" y2="665.31" stroke="#141414" stroke-opacity="0.75" stroke-width="2.6" stroke-linecap="round"/>
<line x1="838.68" y1="665.25" x2="842.40" y2="665.11" stroke="#141414" stroke-opacity="0.80" stroke-width="2.0" stroke-linecap="round"/>
<line x1="845.96" y1="665.07" x2="849.22" y2="664.95" stroke="#141414" stroke-opacity="0.72" stroke-width="1.7" stroke-linecap="round"/>
<line x1="782.49" y1="675.29" x2="794.02" y2="674.89" stroke="#141414" stroke-opacity="1.00" stroke-width="4.2" stroke-linecap="round"/>
<line x1="801.97" y1="674.79" x2="810.19" y2="674.49" stroke="#141414" stroke-opacity="0.97" stroke-width="3.7" stroke-linecap="round"/>
<line x1="817.68" y1="674.39" x2="824.12" y2="674.15" stroke="#141414" stroke-opacity="0.90" stroke-width="3.1" stroke-linecap="round"/>
<line x1="829.54" y1="674.09" x2="833.99" y2="673.91" stroke="#141414" stroke-opacity="0.75" stroke-width="2.6" stroke-linecap="round"/>
<line x1="838.68" y1="673.85" x2="842.40" y2="673.71" stroke="#141414" stroke-opacity="0.80" stroke-width="2.0" stroke-linecap="round"/>
<line x1="845.96" y1="673.67" x2="849.22" y2="673.54" stroke="#141414" stroke-opacity="0.72" stroke-width="1.7" stroke-linecap="round"/>
<polygon points="793.62,707.18 837.36,705.93 837.36,721.49 793.62,722.82" fill="#bdbdbd"/>
<circle cx="771.49" cy="740.24" r="8" fill="url(#glockshadow)"/>
<circle cx="770.49" cy="738.74" r="6.4" fill="#474747"/>
<circle cx="771.19" cy="738.94" r="4.6" fill="#f4f4f4"/>
<polygon points="745.00,875.56 884.30,868.86 884.30,1103.34 745.00,1113.87" fill="#d6d6d6"/>
<polyline points="745.00,1113.87 745.00,875.56 884.30,868.86" fill="none" stroke="#555555" stroke-width="1.15"/>
<polyline points="884.30,868.86 884.30,1103.34" fill="none" stroke="#7a7a7a" stroke-width="1"/>
<polyline points="745.00,1113.87 877.30,1103.87" fill="none" stroke="#626262" stroke-width="1"/>
<polyline points="877.30,1103.87 883.80,1103.38" fill="none" stroke="#f0f0f0" stroke-width="1.6"/>
<line x1="782.49" y1="902.93" x2="794.02" y2="902.12" stroke="#141414" stroke-opacity="1.00" stroke-width="4.2" stroke-linecap="round"/>
<line x1="801.97" y1="901.92" x2="810.19" y2="901.30" stroke="#141414" stroke-opacity="0.97" stroke-width="3.7" stroke-linecap="round"/>
<line x1="817.68" y1="901.09" x2="824.12" y2="900.60" stroke="#141414" stroke-opacity="0.90" stroke-width="3.1" stroke-linecap="round"/>
<line x1="829.54" y1="900.47" x2="833.99" y2="900.11" stroke="#141414" stroke-opacity="0.75" stroke-width="2.6" stroke-linecap="round"/>
<line x1="838.68" y1="899.99" x2="842.40" y2="899.69" stroke="#141414" stroke-opacity="0.80" stroke-width="2.0" stroke-linecap="round"/>
<line x1="845.96" y1="899.60" x2="849.22" y2="899.35" stroke="#141414" stroke-opacity="0.72" stroke-width="1.7" stroke-linecap="round"/>
<line x1="782.49" y1="911.59" x2="794.02" y2="910.77" stroke="#141414" stroke-opacity="1.00" stroke-width="4.2" stroke-linecap="round"/>
<line x1="801.97" y1="910.56" x2="810.19" y2="909.94" stroke="#141414" stroke-opacity="0.97" stroke-width="3.7" stroke-linecap="round"/>
<line x1="817.68" y1="909.72" x2="824.12" y2="909.22" stroke="#141414" stroke-opacity="0.90" stroke-width="3.1" stroke-linecap="round"/>
<line x1="829.54" y1="909.09" x2="833.99" y2="908.72" stroke="#141414" stroke-opacity="0.75" stroke-width="2.6" stroke-linecap="round"/>
<line x1="838.68" y1="908.59" x2="842.40" y2="908.29" stroke="#141414" stroke-opacity="0.80" stroke-width="2.0" stroke-linecap="round"/>
<line x1="845.96" y1="908.20" x2="849.22" y2="907.94" stroke="#141414" stroke-opacity="0.72" stroke-width="1.7" stroke-linecap="round"/>
<line x1="782.49" y1="920.26" x2="794.02" y2="919.42" stroke="#141414" stroke-opacity="1.00" stroke-width="4.2" stroke-linecap="round"/>
<line x1="801.97" y1="919.20" x2="810.19" y2="918.57" stroke="#141414" stroke-opacity="0.97" stroke-width="3.7" stroke-linecap="round"/>
<line x1="817.68" y1="918.35" x2="824.12" y2="917.84" stroke="#141414" stroke-opacity="0.90" stroke-width="3.1" stroke-linecap="round"/>
<line x1="829.54" y1="917.70" x2="833.99" y2="917.32" stroke="#141414" stroke-opacity="0.75" stroke-width="2.6" stroke-linecap="round"/>
<line x1="838.68" y1="917.20" x2="842.40" y2="916.89" stroke="#141414" stroke-opacity="0.80" stroke-width="2.0" stroke-linecap="round"/>
<line x1="845.96" y1="916.80" x2="849.22" y2="916.53" stroke="#141414" stroke-opacity="0.72" stroke-width="1.7" stroke-linecap="round"/>
<line x1="782.49" y1="928.92" x2="794.02" y2="928.06" stroke="#141414" stroke-opacity="1.00" stroke-width="4.2" stroke-linecap="round"/>
<line x1="801.97" y1="927.85" x2="810.19" y2="927.20" stroke="#141414" stroke-opacity="0.97" stroke-width="3.7" stroke-linecap="round"/>
<line x1="817.68" y1="926.97" x2="824.12" y2="926.46" stroke="#141414" stroke-opacity="0.90" stroke-width="3.1" stroke-linecap="round"/>
<line x1="829.54" y1="926.32" x2="833.99" y2="925.93" stroke="#141414" stroke-opacity="0.75" stroke-width="2.6" stroke-linecap="round"/>
<line x1="838.68" y1="925.80" x2="842.40" y2="925.49" stroke="#141414" stroke-opacity="0.80" stroke-width="2.0" stroke-linecap="round"/>
<line x1="845.96" y1="925.40" x2="849.22" y2="925.13" stroke="#141414" stroke-opacity="0.72" stroke-width="1.7" stroke-linecap="round"/>
<polygon points="793.62,960.43 837.36,957.88 837.36,973.44 793.62,976.07" fill="#bdbdbd"/>
<circle cx="771.49" cy="994.16" r="8" fill="url(#glockshadow)"/>
<circle cx="770.49" cy="992.66" r="6.4" fill="#474747"/>
<circle cx="771.19" cy="992.86" r="4.6" fill="#f4f4f4"/>
<polygon points="911.20,368.01 1045.20,369.46 1045.20,599.50 911.20,601.74" fill="#d6d6d6"/>
<polyline points="911.20,601.74 911.20,368.01 1045.20,369.46" fill="none" stroke="#555555" stroke-width="1.15"/>
<polyline points="1045.20,369.46 1045.20,599.50" fill="none" stroke="#7a7a7a" stroke-width="1"/>
<polyline points="911.20,601.74 1038.20,599.62" fill="none" stroke="#626262" stroke-width="1"/>
<polyline points="1038.20,599.62 1044.70,599.51" fill="none" stroke="#f0f0f0" stroke-width="1.6"/>
<line x1="947.34" y1="396.90" x2="958.27" y2="397.01" stroke="#141414" stroke-opacity="1.00" stroke-width="4.2" stroke-linecap="round"/>
<line x1="966.07" y1="397.04" x2="973.84" y2="397.12" stroke="#141414" stroke-opacity="0.97" stroke-width="3.7" stroke-linecap="round"/>
<line x1="981.18" y1="397.15" x2="987.25" y2="397.22" stroke="#141414" stroke-opacity="0.90" stroke-width="3.1" stroke-linecap="round"/>
<line x1="992.57" y1="397.24" x2="996.76" y2="397.29" stroke="#141414" stroke-opacity="0.75" stroke-width="2.6" stroke-linecap="round"/>
<line x1="1001.35" y1="397.31" x2="1004.85" y2="397.35" stroke="#141414" stroke-opacity="0.80" stroke-width="2.0" stroke-linecap="round"/>
<line x1="1008.35" y1="397.36" x2="1011.42" y2="397.40" stroke="#141414" stroke-opacity="0.72" stroke-width="1.7" stroke-linecap="round"/>
<line x1="947.34" y1="405.39" x2="958.27" y2="405.49" stroke="#141414" stroke-opacity="1.00" stroke-width="4.2" stroke-linecap="round"/>
<line x1="966.07" y1="405.52" x2="973.84" y2="405.59" stroke="#141414" stroke-opacity="0.97" stroke-width="3.7" stroke-linecap="round"/>
<line x1="981.18" y1="405.61" x2="987.25" y2="405.67" stroke="#141414" stroke-opacity="0.90" stroke-width="3.1" stroke-linecap="round"/>
<line x1="992.57" y1="405.69" x2="996.76" y2="405.73" stroke="#141414" stroke-opacity="0.75" stroke-width="2.6" stroke-linecap="round"/>
<line x1="1001.35" y1="405.75" x2="1004.85" y2="405.78" stroke="#141414" stroke-opacity="0.80" stroke-width="2.0" stroke-linecap="round"/>
<line x1="1008.35" y1="405.80" x2="1011.42" y2="405.83" stroke="#141414" stroke-opacity="0.72" stroke-width="1.7" stroke-linecap="round"/>
<line x1="947.34" y1="413.89" x2="958.27" y2="413.97" stroke="#141414" stroke-opacity="1.00" stroke-width="4.2" stroke-linecap="round"/>
<line x1="966.07" y1="413.99" x2="973.84" y2="414.06" stroke="#141414" stroke-opacity="0.97" stroke-width="3.7" stroke-linecap="round"/>
<line x1="981.18" y1="414.08" x2="987.25" y2="414.13" stroke="#141414" stroke-opacity="0.90" stroke-width="3.1" stroke-linecap="round"/>
<line x1="992.57" y1="414.14" x2="996.76" y2="414.18" stroke="#141414" stroke-opacity="0.75" stroke-width="2.6" stroke-linecap="round"/>
<line x1="1001.35" y1="414.19" x2="1004.85" y2="414.22" stroke="#141414" stroke-opacity="0.80" stroke-width="2.0" stroke-linecap="round"/>
<line x1="1008.35" y1="414.23" x2="1011.42" y2="414.26" stroke="#141414" stroke-opacity="0.72" stroke-width="1.7" stroke-linecap="round"/>
<line x1="947.34" y1="422.39" x2="958.27" y2="422.45" stroke="#141414" stroke-opacity="1.00" stroke-width="4.2" stroke-linecap="round"/>
<line x1="966.07" y1="422.47" x2="973.84" y2="422.52" stroke="#141414" stroke-opacity="0.97" stroke-width="3.7" stroke-linecap="round"/>
<line x1="981.18" y1="422.54" x2="987.25" y2="422.58" stroke="#141414" stroke-opacity="0.90" stroke-width="3.1" stroke-linecap="round"/>
<line x1="992.57" y1="422.59" x2="996.76" y2="422.62" stroke="#141414" stroke-opacity="0.75" stroke-width="2.6" stroke-linecap="round"/>
<line x1="1001.35" y1="422.63" x2="1004.85" y2="422.66" stroke="#141414" stroke-opacity="0.80" stroke-width="2.0" stroke-linecap="round"/>
<line x1="1008.35" y1="422.66" x2="1011.42" y2="422.69" stroke="#141414" stroke-opacity="0.72" stroke-width="1.7" stroke-linecap="round"/>
<polygon points="957.97,454.06 1000.04,454.09 1000.04,469.35 957.97,469.40" fill="#bdbdbd"/>
<circle cx="936.72" cy="485.84" r="8" fill="url(#glockshadow)"/>
<circle cx="935.72" cy="484.34" r="6.4" fill="#474747"/>
<circle cx="936.42" cy="484.54" r="4.6" fill="#f4f4f4"/>
<polygon points="911.20,617.79 1045.20,615.30 1045.20,845.34 911.20,851.52" fill="#d6d6d6"/>
<polyline points="911.20,851.52 911.20,617.79 1045.20,615.30" fill="none" stroke="#555555" stroke-width="1.15"/>
<polyline points="1045.20,615.30 1045.20,845.34" fill="none" stroke="#7a7a7a" stroke-width="1"/>
<polyline points="911.20,851.52 1038.20,845.66" fill="none" stroke="#626262" stroke-width="1"/>
<polyline points="1038.20,845.66 1044.70,845.36" fill="none" stroke="#f0f0f0" stroke-width="1.6"/>
<line x1="947.34" y1="645.67" x2="958.27" y2="645.34" stroke="#141414" stroke-opacity="1.00" stroke-width="4.2" stroke-linecap="round"/>
<line x1="966.07" y1="645.26" x2="973.84" y2="645.01" stroke="#141414" stroke-opacity="0.97" stroke-width="3.7" stroke-linecap="round"/>
<line x1="981.18" y1="644.92" x2="987.25" y2="644.72" stroke="#141414" stroke-opacity="0.90" stroke-width="3.1" stroke-linecap="round"/>
<line x1="992.57" y1="644.66" x2="996.76" y2="644.51" stroke="#141414" stroke-opacity="0.75" stroke-width="2.6" stroke-linecap="round"/>
<line x1="1001.35" y1="644.46" x2="1004.85" y2="644.34" stroke="#141414" stroke-opacity="0.80" stroke-width="2.0" stroke-linecap="round"/>
<line x1="1008.35" y1="644.31" x2="1011.42" y2="644.20" stroke="#141414" stroke-opacity="0.72" stroke-width="1.7" stroke-linecap="round"/>
<line x1="947.34" y1="654.17" x2="958.27" y2="653.82" stroke="#141414" stroke-opacity="1.00" stroke-width="4.2" stroke-linecap="round"/>
<line x1="966.07" y1="653.74" x2="973.84" y2="653.47" stroke="#141414" stroke-opacity="0.97" stroke-width="3.7" stroke-linecap="round"/>
<line x1="981.18" y1="653.38" x2="987.25" y2="653.17" stroke="#141414" stroke-opacity="0.90" stroke-width="3.1" stroke-linecap="round"/>
<line x1="992.57" y1="653.11" x2="996.76" y2="652.96" stroke="#141414" stroke-opacity="0.75" stroke-width="2.6" stroke-linecap="round"/>
<line x1="1001.35" y1="652.91" x2="1004.85" y2="652.78" stroke="#141414" stroke-opacity="0.80" stroke-width="2.0" stroke-linecap="round"/>
<line x1="1008.35" y1="652.74" x2="1011.42" y2="652.63" stroke="#141414" stroke-opacity="0.72" stroke-width="1.7" stroke-linecap="round"/>
<line x1="947.34" y1="662.67" x2="958.27" y2="662.31" stroke="#141414" stroke-opacity="1.00" stroke-width="4.2" stroke-linecap="round"/>
<line x1="966.07" y1="662.21" x2="973.84" y2="661.94" stroke="#141414" stroke-opacity="0.97" stroke-width="3.7" stroke-linecap="round"/>
<line x1="981.18" y1="661.84" x2="987.25" y2="661.62" stroke="#141414" stroke-opacity="0.90" stroke-width="3.1" stroke-linecap="round"/>
<line x1="992.57" y1="661.56" x2="996.76" y2="661.40" stroke="#141414" stroke-opacity="0.75" stroke-width="2.6" stroke-linecap="round"/>
<line x1="1001.35" y1="661.35" x2="1004.85" y2="661.22" stroke="#141414" stroke-opacity="0.80" stroke-width="2.0" stroke-linecap="round"/>
<line x1="1008.35" y1="661.18" x2="1011.42" y2="661.06" stroke="#141414" stroke-opacity="0.72" stroke-width="1.7" stroke-linecap="round"/>
<line x1="947.34" y1="671.17" x2="958.27" y2="670.79" stroke="#141414" stroke-opacity="1.00" stroke-width="4.2" stroke-linecap="round"/>
<line x1="966.07" y1="670.69" x2="973.84" y2="670.41" stroke="#141414" stroke-opacity="0.97" stroke-width="3.7" stroke-linecap="round"/>
<line x1="981.18" y1="670.31" x2="987.25" y2="670.08" stroke="#141414" stroke-opacity="0.90" stroke-width="3.1" stroke-linecap="round"/>
<line x1="992.57" y1="670.02" x2="996.76" y2="669.85" stroke="#141414" stroke-opacity="0.75" stroke-width="2.6" stroke-linecap="round"/>
<line x1="1001.35" y1="669.79" x2="1004.85" y2="669.65" stroke="#141414" stroke-opacity="0.80" stroke-width="2.0" stroke-linecap="round"/>
<line x1="1008.35" y1="669.61" x2="1011.42" y2="669.49" stroke="#141414" stroke-opacity="0.72" stroke-width="1.7" stroke-linecap="round"/>
<polygon points="957.97,702.46 1000.04,701.25 1000.04,716.52 957.97,717.80" fill="#bdbdbd"/>
<circle cx="936.72" cy="734.90" r="8" fill="url(#glockshadow)"/>
<circle cx="935.72" cy="733.40" r="6.4" fill="#474747"/>
<circle cx="936.42" cy="733.60" r="4.6" fill="#f4f4f4"/>
<polygon points="911.20,867.57 1045.20,861.13 1045.20,1091.17 911.20,1101.31" fill="#d6d6d6"/>
<polyline points="911.20,1101.31 911.20,867.57 1045.20,861.13" fill="none" stroke="#555555" stroke-width="1.15"/>
<polyline points="1045.20,861.13 1045.20,1091.17" fill="none" stroke="#7a7a7a" stroke-width="1"/>
<polyline points="911.20,1101.31 1038.20,1091.70" fill="none" stroke="#626262" stroke-width="1"/>
<polyline points="1038.20,1091.70 1044.70,1091.21" fill="none" stroke="#f0f0f0" stroke-width="1.6"/>
<line x1="947.34" y1="894.45" x2="958.27" y2="893.68" stroke="#141414" stroke-opacity="1.00" stroke-width="4.2" stroke-linecap="round"/>
<line x1="966.07" y1="893.48" x2="973.84" y2="892.89" stroke="#141414" stroke-opacity="0.97" stroke-width="3.7" stroke-linecap="round"/>
<line x1="981.18" y1="892.69" x2="987.25" y2="892.21" stroke="#141414" stroke-opacity="0.90" stroke-width="3.1" stroke-linecap="round"/>
<line x1="992.57" y1="892.09" x2="996.76" y2="891.74" stroke="#141414" stroke-opacity="0.75" stroke-width="2.6" stroke-linecap="round"/>
<line x1="1001.35" y1="891.62" x2="1004.85" y2="891.34" stroke="#141414" stroke-opacity="0.80" stroke-width="2.0" stroke-linecap="round"/>
<line x1="1008.35" y1="891.25" x2="1011.42" y2="891.01" stroke="#141414" stroke-opacity="0.72" stroke-width="1.7" stroke-linecap="round"/>
<line x1="947.34" y1="902.95" x2="958.27" y2="902.16" stroke="#141414" stroke-opacity="1.00" stroke-width="4.2" stroke-linecap="round"/>
<line x1="966.07" y1="901.96" x2="973.84" y2="901.36" stroke="#141414" stroke-opacity="0.97" stroke-width="3.7" stroke-linecap="round"/>
<line x1="981.18" y1="901.15" x2="987.25" y2="900.67" stroke="#141414" stroke-opacity="0.90" stroke-width="3.1" stroke-linecap="round"/>
<line x1="992.57" y1="900.54" x2="996.76" y2="900.18" stroke="#141414" stroke-opacity="0.75" stroke-width="2.6" stroke-linecap="round"/>
<line x1="1001.35" y1="900.06" x2="1004.85" y2="899.77" stroke="#141414" stroke-opacity="0.80" stroke-width="2.0" stroke-linecap="round"/>
<line x1="1008.35" y1="899.69" x2="1011.42" y2="899.44" stroke="#141414" stroke-opacity="0.72" stroke-width="1.7" stroke-linecap="round"/>
<line x1="947.34" y1="911.45" x2="958.27" y2="910.64" stroke="#141414" stroke-opacity="1.00" stroke-width="4.2" stroke-linecap="round"/>
<line x1="966.07" y1="910.43" x2="973.84" y2="909.82" stroke="#141414" stroke-opacity="0.97" stroke-width="3.7" stroke-linecap="round"/>
<line x1="981.18" y1="909.61" x2="987.25" y2="909.12" stroke="#141414" stroke-opacity="0.90" stroke-width="3.1" stroke-linecap="round"/>
<line x1="992.57" y1="908.99" x2="996.76" y2="908.63" stroke="#141414" stroke-opacity="0.75" stroke-width="2.6" stroke-linecap="round"/>
<line x1="1001.35" y1="908.50" x2="1004.85" y2="908.21" stroke="#141414" stroke-opacity="0.80" stroke-width="2.0" stroke-linecap="round"/>
<line x1="1008.35" y1="908.12" x2="1011.42" y2="907.87" stroke="#141414" stroke-opacity="0.72" stroke-width="1.7" stroke-linecap="round"/>
<line x1="947.34" y1="919.95" x2="958.27" y2="919.12" stroke="#141414" stroke-opacity="1.00" stroke-width="4.2" stroke-linecap="round"/>
<line x1="966.07" y1="918.91" x2="973.84" y2="918.29" stroke="#141414" stroke-opacity="0.97" stroke-width="3.7" stroke-linecap="round"/>
<line x1="981.18" y1="918.07" x2="987.25" y2="917.57" stroke="#141414" stroke-opacity="0.90" stroke-width="3.1" stroke-linecap="round"/>
<line x1="992.57" y1="917.44" x2="996.76" y2="917.07" stroke="#141414" stroke-opacity="0.75" stroke-width="2.6" stroke-linecap="round"/>
<line x1="1001.35" y1="916.95" x2="1004.85" y2="916.65" stroke="#141414" stroke-opacity="0.80" stroke-width="2.0" stroke-linecap="round"/>
<line x1="1008.35" y1="916.56" x2="1011.42" y2="916.30" stroke="#141414" stroke-opacity="0.72" stroke-width="1.7" stroke-linecap="round"/>
<polygon points="957.97,950.87 1000.04,948.42 1000.04,963.68 957.97,966.21" fill="#bdbdbd"/>
<circle cx="936.72" cy="983.96" r="8" fill="url(#glockshadow)"/>
<circle cx="935.72" cy="982.46" r="6.4" fill="#474747"/>
<circle cx="936.42" cy="982.66" r="4.6" fill="#f4f4f4"/>
<polygon points="911.40,117.21 1032.50,122.10 1032.50,352.49 911.40,350.93" fill="#989898"/>
<polygon points="911.40,137.00 960.00,140.00 960.00,351.56 911.40,350.93" fill="url(#gback)"/>
<polygon points="911.40,117.21 1006.00,121.03 960.00,140.00 911.40,137.00" fill="url(#gceil)"/>
<rect x="951.5" y="132.5" width="6" height="3.6" fill="#4c4c4c" rx="1"/>
<rect x="958" y="133.5" width="3.5" height="2" fill="#d8d8d8" rx="1"/>
<rect x="940.5" y="211" width="4" height="4.5" fill="#f4f4f4"/>
<rect x="972.5" y="311" width="1.6" height="4" fill="#d4d4d4"/>
<rect x="972.5" y="323" width="1.6" height="4" fill="#d4d4d4"/>
<polygon points="1032.50,122.10 1038.00,122.32 1038.00,352.56 1032.50,352.49" fill="#c4c4c4"/>
<polygon points="1034.00,126.00 1086.70,104.90 1086.70,114.00 1050.40,130.00 1050.40,136.30 1034.00,137.00" fill="#adadad"/>
<polygon points="1034.00,126.00 1086.70,104.90 1086.70,108.20 1040.00,127.20" fill="#c2c2c2"/>
<polygon points="1038.00,136.30 1050.40,136.30 1050.40,338.50 1038.00,338.50" fill="#c7c7c7"/>
<polygon points="1050.40,131.00 1087.00,113.50 1087.00,344.60 1050.40,348.30" fill="url(#gdoorin)"/>
<polygon points="1050.40,345.60 1087.00,341.80 1087.00,344.80 1050.40,348.50" fill="#cecece"/>
<polygon points="1087.00,104.90 1098.00,103.80 1098.00,345.80 1087.00,345.40" fill="#d9d9d9"/>
<rect x="1034" y="124.5" width="6" height="11.5" fill="#b0b0b0"/>
<rect x="1037.5" y="127" width="1.8" height="4.5" fill="#e6e6e6"/>
<polygon points="1034.50,338.30 1050.40,338.30 1050.40,348.30 1034.50,349.50" fill="#8f8f8f"/>
<polygon points="1034.50,338.30 1050.40,338.30 1050.40,340.30 1034.50,340.30" fill="#a6a6a6"/>
<line x1="1057.5" y1="146.3" x2="1069.5" y2="142.1" stroke="#f4f4f4" stroke-width="1.7" />
<line x1="1071" y1="141.7" x2="1075.3" y2="140.3" stroke="#f4f4f4" stroke-width="2.8" />
<line x1="1077" y1="139.7" x2="1080.8" y2="138.5" stroke="#f4f4f4" stroke-width="3.0" />
<line x1="1057.5" y1="155.2" x2="1069.5" y2="151.0" stroke="#f4f4f4" stroke-width="1.7" />
<line x1="1071" y1="150.6" x2="1075.3" y2="149.2" stroke="#f4f4f4" stroke-width="2.8" />
<line x1="1077" y1="148.6" x2="1080.8" y2="147.4" stroke="#f4f4f4" stroke-width="3.0" />
<line x1="1057.5" y1="164.1" x2="1069.5" y2="159.9" stroke="#f4f4f4" stroke-width="1.7" />
<line x1="1071" y1="159.5" x2="1075.3" y2="158.1" stroke="#f4f4f4" stroke-width="2.8" />
<line x1="1077" y1="157.5" x2="1080.8" y2="156.3" stroke="#f4f4f4" stroke-width="3.0" />
<line x1="1057.5" y1="173.0" x2="1069.5" y2="168.8" stroke="#f4f4f4" stroke-width="1.7" />
<line x1="1071" y1="168.4" x2="1075.3" y2="167.0" stroke="#f4f4f4" stroke-width="2.8" />
<line x1="1077" y1="166.4" x2="1080.8" y2="165.2" stroke="#f4f4f4" stroke-width="3.0" />
<ellipse cx="1079.4" cy="225.5" rx="6" ry="6.6" fill="#cdd0d9"/>
<path d="M1075.5 231 q5 3.2 9.5 -2" stroke="#8a8a8a" stroke-width="1.2" fill="none"/>
<rect x="1084.6" y="137.5" width="3.4" height="4" fill="#3e3e3e"/>
<rect x="1084" y="307.8" width="3.4" height="5" fill="#3e3e3e"/>
<rect x="1084" y="331" width="3" height="1.5" fill="#8c8c8c"/>
<rect x="515.5" y="305.0" width="1.2" height="2.4" fill="#bdbdbd"/>
<rect x="515.5" y="335.0" width="1.2" height="2.4" fill="#bdbdbd"/>
<rect x="551.0" y="291.0" width="1.2" height="2.4" fill="#bdbdbd"/>
<rect x="551.0" y="304.0" width="1.2" height="2.4" fill="#bdbdbd"/>
<rect x="515.5" y="444.0" width="1.2" height="2.4" fill="#bdbdbd"/>
<rect x="551.0" y="442.0" width="1.2" height="2.4" fill="#bdbdbd"/>
<rect x="515.5" y="506.0" width="1.2" height="2.4" fill="#bdbdbd"/>
<rect x="551.0" y="509.0" width="1.2" height="2.4" fill="#bdbdbd"/>
<rect x="515.5" y="880.0" width="1.2" height="2.4" fill="#bdbdbd"/>
<rect x="515.5" y="900.0" width="1.2" height="2.4" fill="#bdbdbd"/>
<rect x="551.0" y="918.0" width="1.2" height="2.4" fill="#bdbdbd"/>
<rect x="551.0" y="938.0" width="1.2" height="2.4" fill="#bdbdbd"/>
</g>
</svg>
</body></html>
